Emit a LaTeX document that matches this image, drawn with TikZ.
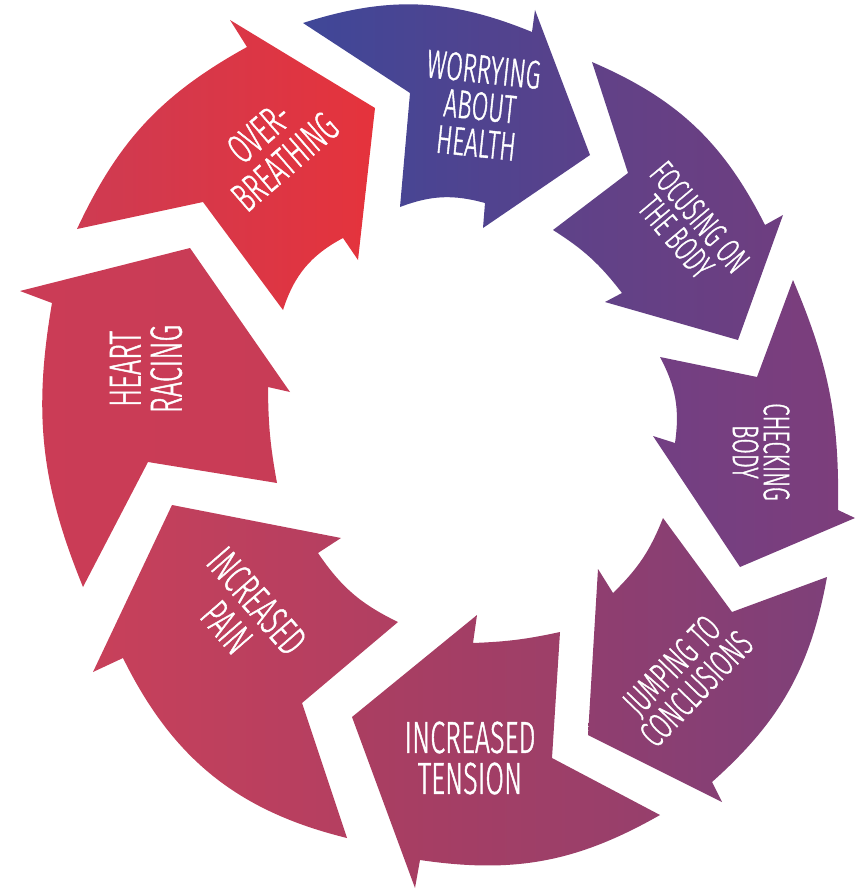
\documentclass[tikz,border=0pt]{standalone}
\usepackage{fontspec}
\newfontfamily\lab[FakeStretch=0.6,FakeBold=1]{Fira Sans Light}
\begin{document}
\begin{tikzpicture}[x=1pt,y=1pt,
  lbl/.style={text=white, align=center, inner sep=0pt},
  seg/.style={draw=none}]
\useasboundingbox (0,0) rectangle (855,-891);
% ---- Worrying about health
\coordinate (W1) at (303,-23);  \coordinate (W2) at (532,-32);
\coordinate (W3) at (535,-10);  \coordinate (W4) at (590,-155);
\coordinate (W5) at (483,-228); \coordinate (W6) at (485,-203);
\coordinate (W7) at (400,-207); \coordinate (W8) at (410,-93);
% ---- Focusing on the body
\coordinate (F1) at (592,-62);  \coordinate (F2) at (765,-225);
\coordinate (F3) at (783,-215); \coordinate (F4) at (738,-340);
\coordinate (F5) at (605,-302); \coordinate (F6) at (622,-293);
\coordinate (F7) at (553,-230); \coordinate (F8) at (628,-173);
% ---- Checking body
\coordinate (C1) at (793,-280); \coordinate (C2) at (838,-510);
\coordinate (C3) at (855,-518); \coordinate (C4) at (740,-567);
\coordinate (C5) at (653,-436); \coordinate (C6) at (675,-443);
\coordinate (C7) at (660,-357); \coordinate (C8) at (757,-377);
% ---- Jumping to conclusions
\coordinate (J1) at (827,-577); \coordinate (J2) at (712,-782);
\coordinate (J3) at (722,-802); \coordinate (J4) at (588,-735);
\coordinate (J5) at (598,-569); \coordinate (J6) at (613,-593);
\coordinate (J7) at (663,-518); \coordinate (J8) at (732,-612);
% ---- Increased tension
\coordinate (T1) at (660,-815); \coordinate (T2) at (420,-860);
\coordinate (T3) at (415,-888); \coordinate (T4) at (352,-717);
\coordinate (T5) at (477,-615); \coordinate (T6) at (473,-643);
\coordinate (T7) at (560,-632); \coordinate (T8) at (552,-758);
% ---- Increased pain
\coordinate (P1) at (347,-838); \coordinate (P2) at (123,-658);
\coordinate (P3) at (93,-672);  \coordinate (P4) at (172,-505);
\coordinate (P5) at (341,-538); \coordinate (P6) at (318,-553);
\coordinate (P7) at (398,-622); \coordinate (P8) at (302,-703);
% ---- Heart racing
\coordinate (H1) at (83,-587);  \coordinate (H2) at (52,-303);
\coordinate (H3) at (20,-291);  \coordinate (H4) at (190,-248);
\coordinate (H5) at (290,-392); \coordinate (H6) at (268,-387);
\coordinate (H7) at (277,-483); \coordinate (H8) at (148,-462);
% ---- Over-breathing
\coordinate (O1) at (77,-229);  \coordinate (O2) at (247,-47);
\coordinate (O3) at (230,-20);  \coordinate (O4) at (375,-108);
\coordinate (O5) at (358,-260); \coordinate (O6) at (343,-238);
\coordinate (O7) at (283,-310); \coordinate (O8) at (203,-202);

\shade[seg, left color={rgb,255:red,63;green,71;blue,152}, right color={rgb,255:red,90;green,65;blue,138}]
  (W1) to[bend left=20] (W2) -- (W3) -- (W4) -- (W5) -- (W6) to[bend right=18] (W7) -- (W8) -- cycle;
\shade[seg, left color={rgb,255:red,94;green,66;blue,137}, right color={rgb,255:red,110;green,62;blue,128}]
  (F1) to[bend left=20] (F2) -- (F3) -- (F4) -- (F5) -- (F6) to[bend right=10] (F7) -- (F8) -- cycle;
\shade[seg, left color={rgb,255:red,114;green,63;blue,131}, right color={rgb,255:red,125;green,62;blue,123}]
  (C1) to[bend left=12] (C2) -- (C3) -- (C4) -- (C5) -- (C6) to[bend right=18] (C7) -- (C8) -- cycle;
\shade[seg, left color={rgb,255:red,144;green,62;blue,111}, right color={rgb,255:red,126;green,64;blue,121}]
  (J1) to[bend left=19] (J2) -- (J3) -- (J4) -- (J5) -- (J6) to[bend right=12] (J7) -- (J8) -- cycle;
\shade[seg, left color={rgb,255:red,171;green,62;blue,97}, right color={rgb,255:red,150;green,63;blue,108}]
  (T1) to[bend left=19] (T2) -- (T3) -- (T4) -- (T5) -- (T6) to[bend right=5] (T7) -- (T8) -- cycle;
\shade[seg, left color={rgb,255:red,200;green,64;blue,90}, right color={rgb,255:red,176;green,63;blue,98}]
  (P1) to[bend left=25] (P2) -- (P3) -- (P4) -- (P5) -- (P6) to[bend right=15] (P7) -- (P8) -- cycle;
\shade[seg, left color={rgb,255:red,203;green,60;blue,86}, right color={rgb,255:red,200;green,60;blue,86}]
  (H1) to[bend left=16] (H2) -- (H3) -- (H4) -- (H5) -- (H6) to[bend right=5] (H7) -- (H8) -- cycle;
\shade[seg, left color={rgb,255:red,206;green,59;blue,82}, right color={rgb,255:red,229;green,51;blue,60}]
  (O1) to[bend left=18] (O2) -- (O3) -- (O4) -- (O5) -- (O6) to[bend right=22] (O7) -- (O8) -- cycle;

\node[lbl, rotate=-6, font=\lab\fontsize{40}{37}\selectfont] (tW) at (480,-106) {WORRYING\\ABOUT\\HEALTH};
\node[lbl, rotate=-50, font=\lab\fontsize{36}{31}\selectfont] (tF) at (688,-227) {FOCUSING ON\\THE BODY};
\node[lbl, rotate=-90, font=\lab\fontsize{37}{31}\selectfont] (tC) at (761,-452) {CHECKING\\BODY};
\node[lbl, rotate=46, font=\lab\fontsize{38}{34}\selectfont] (tJ) at (684,-677) {JUMPING TO\\CONCLUSIONS};
\node[lbl, rotate=0, font=\lab\fontsize{45}{41}\selectfont] (tT) at (470,-758) {INCREASED\\TENSION};
\node[lbl, rotate=-49, font=\lab\fontsize{43}{40}\selectfont] (tP) at (242,-614) {INCREASED\\PAIN};
\node[lbl, rotate=90, font=\lab\fontsize{45}{41}\selectfont] (tH) at (146,-369) {HEART\\RACING};
\node[lbl, rotate=41, font=\lab\fontsize{42}{39}\selectfont] (tO) at (272,-147) {OVER-\\BREATHING};
\end{tikzpicture}
\end{document}
